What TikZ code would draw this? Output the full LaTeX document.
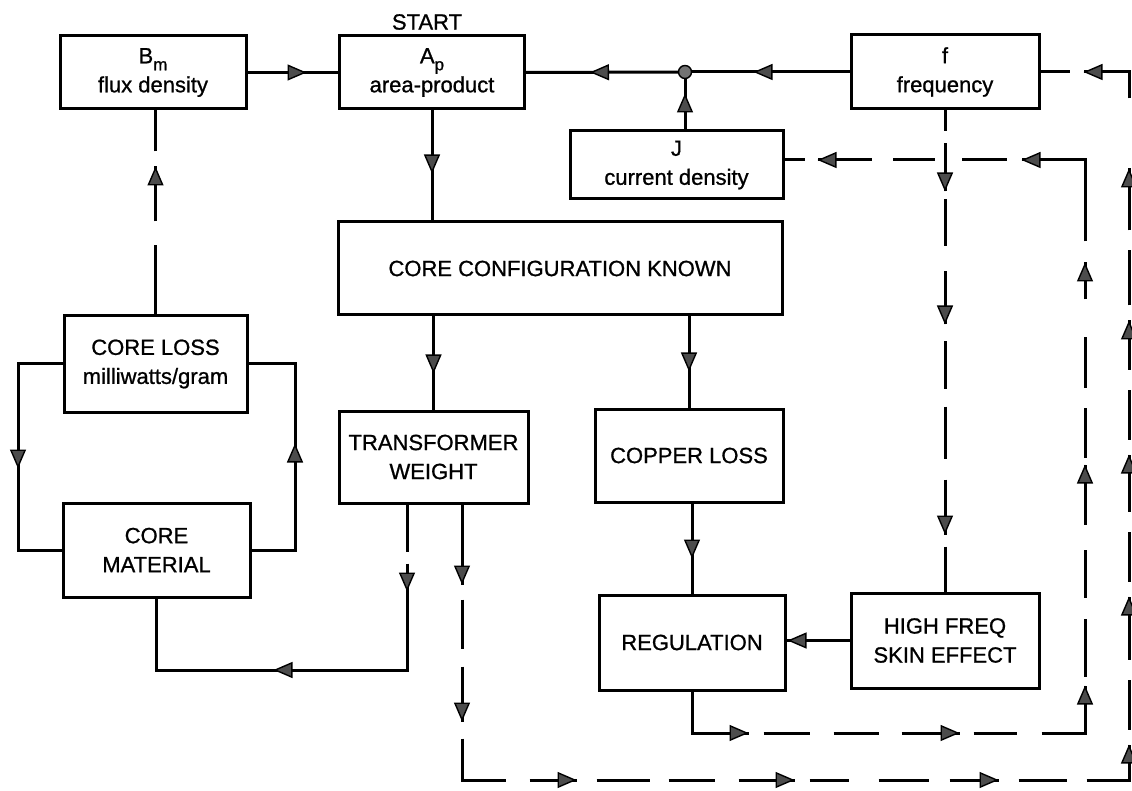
\documentclass[tikz,border=0pt]{standalone}
\usepackage{fontspec}
\setmainfont{Liberation Sans}
\newfontfamily\labfont[FakeBold=0.9]{Liberation Sans}
\usetikzlibrary{arrows.meta,decorations.markings,calc}
\begin{document}
\begin{tikzpicture}[x=1pt,y=-1pt,
  box/.style={draw, line width=3pt, align=center, inner sep=0pt, font=\labfont\fontsize{22}{29}\selectfont},
  conn/.style={line width=3pt},
  tri/.tip={Triangle[length=19pt,width=16pt,fill=black!70,line width=1.4pt]},
  arrs/.style={postaction={decorate}, decoration={markings, #1}},
  lbl/.style={font=\labfont\fontsize{22}{24}\selectfont, inner sep=0pt}]
\useasboundingbox (0,0) rectangle (1132,791);

% boxes
\node[box, minimum width=186pt, minimum height=73pt] (bm) at (153,72.5)
  {B\raisebox{-7pt}{\fontsize{17}{17}\selectfont m}\\flux density};
\node[box, minimum width=185pt, minimum height=73pt] (ap) at (432,72.5)
  {A\raisebox{-7pt}{\fontsize{17}{17}\selectfont p}\\area-product};
\node[lbl] (start) at (427,22) {START};
\node[box, minimum width=188pt, minimum height=74pt] (fr) at (945,72)
  {f\\frequency};
\node[box, minimum width=213pt, minimum height=68pt] (jd) at (676.5,165)
  {J\\current density};
\node[box, minimum width=444pt, minimum height=93pt] (cck) at (560,268.5)
  {CORE CONFIGURATION KNOWN};
\node[box, minimum width=183pt, minimum height=96pt] (cl) at (155.5,364)
  {CORE LOSS\\milliwatts/gram};
\node[box, minimum width=187pt, minimum height=94pt] (cm) at (156.5,550)
  {CORE\\MATERIAL};
\node[box, minimum width=189pt, minimum height=92pt] (tw) at (433.5,457)
  {TRANSFORMER\\WEIGHT};
\node[box, minimum width=188pt, minimum height=93pt] (cu) at (689,455.5)
  {COPPER LOSS};
\node[box, minimum width=186pt, minimum height=95pt] (reg) at (692,642.5)
  {REGULATION};
\node[box, minimum width=188pt, minimum height=95pt] (hf) at (945,640.5)
  {HIGH FREQ\\SKIN EFFECT};

% helper coordinates
\coordinate (dot) at (685,72);
\coordinate (lft) at (18,0);
\coordinate (rgt) at (295,0);
\coordinate (twl) at (407,0);
\coordinate (twr) at (462,0);
\coordinate (b1) at (0,670);
\coordinate (b2) at (0,780);
\coordinate (b3) at (0,733);
\coordinate (rr) at (1129,0);
\coordinate (ri) at (1085,0);
\coordinate (jin) at ([yshift=5pt]jd.east);

% solid connectors
\draw[conn, arrs={mark=at position 59pt with {\arrow{tri}}}] (bm.east) -- (ap.west);
\draw[conn, arrs={mark=at position 96pt with {\arrow{tri}}}] (fr.west) -- (dot);
\draw[conn, arrs={mark=at position 95pt with {\arrow{tri}}}] (dot) -- (ap.east);
\draw[conn, arrs={mark=at position 36pt with {\arrow{tri}}}] (jd.north -| dot) -- (dot);
\draw[conn, arrs={mark=at position 63pt with {\arrow{tri}}}] (ap.south) -- (ap.south |- cck.north);
\draw[conn, arrs={mark=at position 57pt with {\arrow{tri}}}] (tw.north |- cck.south) -- (tw.north);
\draw[conn, arrs={mark=at position 55pt with {\arrow{tri}}}] (cu.north |- cck.south) -- (cu.north);
\draw[conn, arrs={mark=at position 55pt with {\arrow{tri}}}] (reg.north |- cu.south) -- (reg.north);
\draw[conn, arrs={mark=at position 62pt with {\arrow{tri}}}] (hf.west) -- (hf.west -| reg.east);
\draw[conn, arrs={mark=at position 149pt with {\arrow{tri}}}]
  (cl.west) -- (cl.west -| lft) -- (lft |- cm.west) -- (cm.west);
\draw[conn, arrs={mark=at position 150pt with {\arrow{tri}}}]
  (cm.east) -- (cm.east -| rgt) -- (rgt |- cl.east) -- (cl.east);

% broken / dashed connectors
\draw[conn, dash pattern=on 69pt off 24pt on 55pt off 15pt on 100pt,
  arrs={mark=at position 148pt with {\arrow{tri}}}]
  (cl.north) -- (cl.north |- bm.south);
\draw[conn, dash pattern=on 47pt off 12pt on 1000pt,
  arrs={mark=at position 87pt with {\arrow{tri}}, mark=at position 299pt with {\arrow{tri}}}]
  (tw.south -| twl) -- (twl |- b1) -- (cm.south |- b1) -- (cm.south);
\draw[conn, dash pattern=on 80pt off 15pt on 49pt off 18pt on 55pt off 17pt on 85pt off 24pt on 47pt off 20pt on 53pt off 19pt on 46pt off 24pt on 56pt off 15pt on 39pt off 30pt on 50pt off 21pt on 49pt off 20pt on 48pt off 20pt on 78pt off 15pt on 50pt off 20pt on 63pt off 15pt on 50pt off 20pt on 57pt off 15pt on 50pt off 20pt on 49pt off 15pt on 55pt off 20pt on 62pt off 70pt on 72pt off 14pt on 100pt,
  arrs={mark=at position 80pt with {\arrow{tri}}, mark=at position 217pt with {\arrow{tri}},
        mark=at position 390pt with {\arrow{tri}}, mark=at position 608pt with {\arrow{tri}},
        mark=at position 812pt with {\arrow{tri}}, mark=at position 978pt with {\arrow{tri}},
        mark=at position 1126pt with {\arrow{tri}}, mark=at position 1268pt with {\arrow{tri}},
        mark=at position 1402pt with {\arrow{tri}}, mark=at position 1554pt with {\arrow{tri}},
        mark=at position 1696pt with {\arrow{tri}}}]
  (tw.south -| twr) -- (twr |- b2) -- (rr |- b2) -- (rr |- fr.east) -- (fr.east);
\draw[conn, dash pattern=on 98pt off 15pt on 46pt off 24pt on 45pt off 23pt on 58pt off 14pt on 43pt off 25pt on 91pt off 9pt on 58pt off 21pt on 48pt off 25pt on 60pt off 7pt on 50pt off 20pt on 50pt off 38pt on 37pt off 21pt on 145pt off 15pt on 45pt off 27pt on 42pt off 21pt on 54pt off 13pt on 100pt,
  arrs={mark=at position 98pt with {\arrow{tri}}, mark=at position 309pt with {\arrow{tri}},
        mark=at position 482pt with {\arrow{tri}}, mark=at position 703pt with {\arrow{tri}},
        mark=at position 905pt with {\arrow{tri}}, mark=at position 1071pt with {\arrow{tri}},
        mark=at position 1275pt with {\arrow{tri}}}]
  (reg.south) -- (reg.south |- b3) -- (ri |- b3) -- (ri |- jin) -- (jin);
\draw[conn, dash pattern=on 21pt off 12pt on 48pt off 8pt on 47pt off 25pt on 53pt off 17pt on 47pt off 18pt on 52pt off 21pt on 55pt off 12pt on 100pt,
  arrs={mark=at position 81pt with {\arrow{tri}}, mark=at position 214pt with {\arrow{tri}},
        mark=at position 424pt with {\arrow{tri}}}]
  (fr.south) -- (hf.north);

% junction dot
\node[circle, draw, fill=black!55, line width=1.4pt, inner sep=0pt, minimum size=13pt] (dotn) at (dot) {};
\end{tikzpicture}
\end{document}
